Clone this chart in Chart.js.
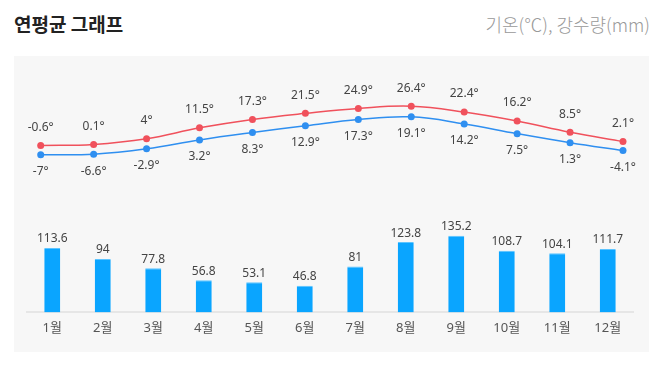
<!DOCTYPE html>
<html><head><meta charset="utf-8">
<script src="https://cdn.jsdelivr.net/npm/chart.js@4.4.1/dist/chart.umd.min.js"></script>
<style>
html,body{margin:0;padding:0;background:#fff;width:665px;height:366px;overflow:hidden;font-family:"Noto Sans","Noto Sans CJK KR",sans-serif;}
#title{position:absolute;left:14px;top:10px;font-size:19px;font-weight:bold;color:#222;font-family:"Noto Sans CJK KR","Noto Sans",sans-serif;}
#unit{position:absolute;right:15px;top:11px;font-size:18px;color:#999;font-family:"Noto Sans CJK KR","Noto Sans",sans-serif;font-weight:300;}
#panel{position:absolute;left:14px;top:56px;width:635px;height:296px;background:#f7f7f7;}
#c{position:absolute;left:0;top:0;}
</style></head><body>
<div id="title">연평균 그래프</div>
<div id="unit">기온(℃), 강수량(mm)</div>
<div id="panel"><canvas id="c" width="635" height="296"></canvas></div>
<script>
const months = ['1월','2월','3월','4월','5월','6월','7월','8월','9월','10월','11월','12월'];
const maxTemp = [-0.6, 0.1, 4, 11.5, 17.3, 21.5, 24.9, 26.4, 22.4, 16.2, 8.5, 2.1];
const minTemp = [-7, -6.6, -2.9, 3.2, 8.3, 12.9, 17.3, 19.1, 14.2, 7.5, 1.3, -4.1];
const rain = [113.6, 94, 77.8, 56.8, 53.1, 46.8, 81, 123.8, 135.2, 108.7, 104.1, 111.7];

const toPoints = arr => arr.map((v, i) => ({ x: i, y: v }));
const rawValues = { max: maxTemp, min: minTemp, rain: rain };

const labelPlugin = {
  id: 'valueLabels',
  afterDatasetsDraw(chart) {
    const ctx = chart.ctx;
    ctx.save();
    ctx.font = '12px "Noto Sans", "Noto Sans CJK KR", sans-serif';
    ctx.fillStyle = '#444';
    ctx.textAlign = 'center';
    ctx.textBaseline = 'middle';
    chart.data.datasets.forEach((ds, di) => {
      const meta = chart.getDatasetMeta(di);
      const vals = rawValues[ds.label];
      meta.data.forEach((el, i) => {
        const v = vals[i];
        let txt, y;
        if (ds.label === 'max') { txt = v + '°'; y = el.y - 18; }
        else if (ds.label === 'min') { txt = v + '°'; y = el.y + 17; }
        else { txt = String(v); y = el.y - 9; }
        ctx.fillText(txt, el.x, y);
      });
    });
    ctx.restore();
  }
};

new Chart(document.getElementById('c'), {
  type: 'bar',
  data: {
    labels: months,
    datasets: [
      { type: 'line', label: 'max', data: toPoints(maxTemp), xAxisID: 'xL', yAxisID: 'yT', borderColor: '#f0515c', backgroundColor: '#f0515c',
        borderWidth: 1.5, pointRadius: 3.5, pointBorderWidth: 0, tension: 0.4, order: 1 },
      { type: 'line', label: 'min', data: toPoints(minTemp), xAxisID: 'xL', yAxisID: 'yT', borderColor: '#2f8ff0', backgroundColor: '#2f8ff0',
        borderWidth: 1.5, pointRadius: 3.5, pointBorderWidth: 0, tension: 0.4, order: 1 },
      { type: 'bar', label: 'rain', data: rain, xAxisID: 'x', yAxisID: 'yR', backgroundColor: '#0aa5ff',
        borderColor: '#5cc4ff', borderWidth: {top: 1, left: 0, right: 0, bottom: 0}, borderSkipped: false,
        grouped: false, maxBarThickness: 16, barPercentage: 0.9, categoryPercentage: 0.9, order: 2 }
    ]
  },
  options: {
    responsive: false,
    animation: false,
    devicePixelRatio: 1,
    layout: { padding: { left: 13, right: 16, top: 10, bottom: 8 } },
    plugins: { legend: { display: false }, tooltip: { enabled: false } },
    scales: {
      x: {
        type: 'category',
        offset: true,
        grid: { display: false, drawTicks: false, offset: true },
        border: { display: true, color: '#e6e6e6', width: 2 },
        ticks: { color: '#555', font: { size: 13, family: '"Noto Sans", "Noto Sans CJK KR", sans-serif' }, padding: 8 }
      },
      xL: { type: 'linear', display: false, offset: false, min: -0.259, max: 11.189 },
      yT: { display: false, min: -115.6, max: 54.1 },
      yR: { display: false, min: 0, max: 434 }
    }
  },
  plugins: [labelPlugin]
});
</script>
</body></html>
